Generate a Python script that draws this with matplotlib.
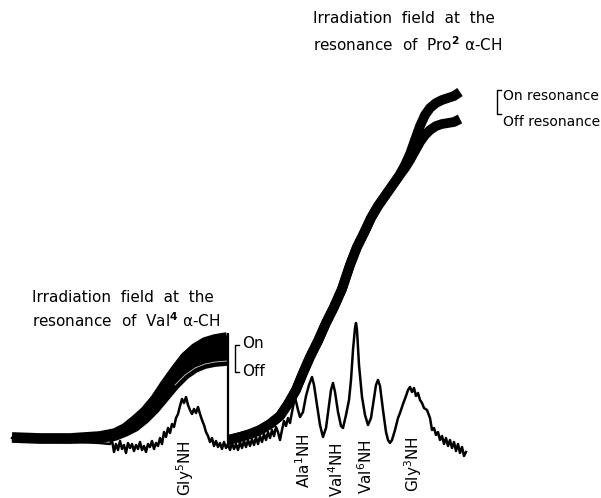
import numpy as np
import matplotlib
matplotlib.use("Agg")
import matplotlib.pyplot as plt

# x/y in page units (y grows downwards)

spec_x = [12, 20, 40, 60, 80, 100, 110,
          112, 114, 116, 118, 120, 122, 124, 126, 128, 130, 132, 134, 136, 138,
          140, 142, 144, 146, 148, 150, 152, 154, 156, 158, 160, 162, 164, 166,
          168, 170, 172, 174, 176, 178, 180, 182, 184, 186, 188, 190, 192, 194,
          196, 198, 200, 202, 204, 206, 208, 210, 212, 214, 216, 218, 220, 222,
          224, 226, 228, 230, 232, 234, 236, 238, 240, 242, 244, 246, 248, 250,
          252, 254, 256, 258, 260, 262, 264, 266, 268, 270, 272, 274, 276, 278,
          280, 282, 284, 286, 288, 290, 292, 295, 298, 300, 303, 306, 309, 312,
          314, 317, 320, 323, 326, 329, 331, 333, 335, 338, 341, 343, 346, 349,
          351, 353, 355, 356, 357, 359, 362, 365, 368, 371, 374, 376, 378, 380,
          383, 386, 388, 390, 392, 395, 398, 400, 403, 406, 408, 410, 412, 414,
          416, 418, 420, 422, 424, 427, 430, 432, 434, 436, 438, 440, 442, 444,
          446, 448, 450, 452, 454, 456, 458, 460, 462, 464, 466]
spec_y = [438, 440, 441, 442, 442, 443, 444,
          440, 452, 444, 450, 441, 449, 445, 453, 443, 448, 444, 451, 445, 449,
          442, 450, 446, 452, 444, 447, 441, 449, 443, 446, 438, 444, 432, 437,
          428, 433, 424, 427, 418, 414, 406, 399, 403, 397, 405, 410, 414, 409,
          413, 407, 414, 420, 425, 432, 436, 442, 438, 446, 441, 447, 443, 449,
          442, 448, 444, 450, 443, 449, 444, 450, 442, 448, 441, 447, 440, 446,
          439, 445, 437, 444, 436, 442, 434, 440, 432, 438, 430, 436, 427, 432,
          440, 430, 421, 426, 418, 423, 412, 397, 410, 417, 412, 396, 385, 377,
          385, 405, 425, 437, 428, 405, 390, 383, 392, 412, 426, 428, 415, 400,
          380, 350, 328, 323, 330, 365, 397, 415, 425, 418, 398, 385, 380, 386,
          410, 432, 440, 443, 440, 430, 418, 413, 404, 396, 390, 387, 392, 388,
          396, 393, 400, 403, 408, 410, 418, 430, 428, 435, 432, 440, 436, 444,
          438, 446, 440, 448, 442, 451, 444, 453, 447, 456, 452]

# integral of the Val4 region, on and off resonance
int1_x = [12, 40, 70, 100, 115, 125, 135, 145, 155, 165, 175, 185, 195, 205,
          215, 227]
int1_on = [437, 438, 438, 436, 433, 428, 420, 411, 399, 384, 370, 357, 348,
           342, 339, 337]
int1_off = [438, 439, 439, 438, 436, 432, 427, 419, 409, 397, 385, 375, 368,
            364, 362, 361]

# integral of the NH region, on and off resonance
int2_x = [228, 240, 250, 260, 270, 280, 288, 296, 303, 310, 318, 326, 334,
          342, 350, 357, 364, 371, 378, 385, 392, 399, 405, 410, 415, 420,
          425, 430, 436, 442, 448, 454, 460]
int2_on = [440, 437, 434, 430, 424, 416, 404, 390, 373, 357, 341, 323, 307,
           289, 265, 247, 233, 218, 206, 196, 186, 176, 165, 154, 140, 126,
           115, 108, 103, 100, 98, 96, 92]
int2_off = [440, 437, 434, 430, 424, 416, 404, 390, 373, 357, 341, 323, 307,
            289, 265, 247, 233, 218, 206, 196, 186, 176, 168, 160, 151, 142,
            135, 130, 126, 124, 123, 122, 119]

peak_names = ["Gly$^5$NH", "Ala$^1$NH", "Val$^4$NH", "Val$^6$NH", "Gly$^3$NH"]
peak_x = [185, 304, 337, 366, 413]
peak_top = [441, 434, 443, 440, 437]

fig = plt.figure(figsize=(6.01, 4.98), dpi=100)
ax = fig.add_axes([0, 0, 1, 1])
ax.set_xlim(0, 601)
ax.set_ylim(498, 0)
ax.axis("off")

ink = "black"
band = dict(color=ink, lw=7, solid_capstyle="butt", solid_joinstyle="round")
# the repeated scans of the first integral smear into one band
ax.fill_between(int1_x, int1_on, int1_off, color=ink, lw=0)
ax.plot(int1_x, int1_on, **band)
ax.plot(int1_x, int1_off, **band)
ax.plot(int1_x[10:], int1_off[10:], color="white", lw=0.6, alpha=0.8) # scan streak
ax.plot(int2_x, int2_on, **band)
ax.plot(int2_x, int2_off, **band)
ax.vlines(int1_x[-1] + 1, int1_on[-1] - 4, 448, color=ink, lw=1.6)
ax.plot(spec_x, spec_y, color=ink, lw=1.8)

for name, x, top in zip(peak_names, peak_x, peak_top):
	ax.text(x, top, name, rotation=90, ha="center", va="top", fontsize=11)

# bracket labels
def bracket (x, y0, y1):
	ax.plot([x + 4, x, x, x + 4], [y0, y0, y1, y1], color=ink, lw=1)

bracket(235, 345, 372)
ax.text(242, 343, "On", fontsize=11, va="center")
ax.text(242, 371, "Off", fontsize=11, va="center")
bracket(497, 90, 114)
ax.text(503, 96, "On resonance", fontsize=10, va="center")
ax.text(503, 122, "Off resonance", fontsize=10, va="center")

ax.text(32, 297, "Irradiation  field  at  the", fontsize=11, va="center")
ax.text(32, 321, r"resonance  of  Val$^{\mathbf{4}}$ α-CH", fontsize=11, va="center")
ax.text(313, 18, "Irradiation  field  at  the", fontsize=11, va="center")
ax.text(313, 45, r"resonance  of  Pro$^{\mathbf{2}}$ α-CH", fontsize=11, va="center")

fig.savefig("out.png", dpi=100)
